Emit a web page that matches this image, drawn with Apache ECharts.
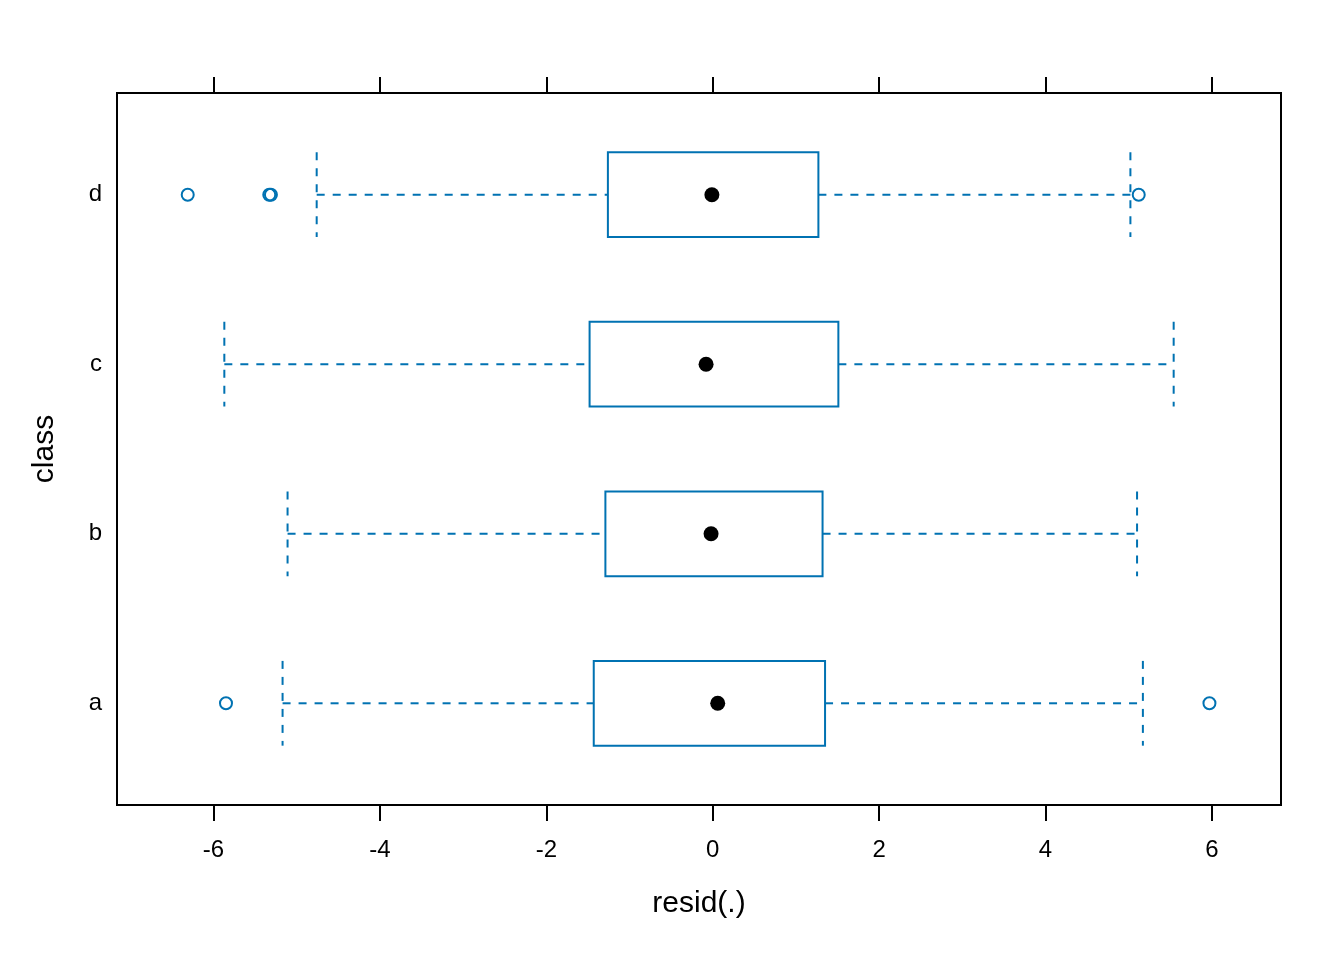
<!DOCTYPE html>
<html>
<head>
<meta charset="utf-8">
<script src="https://cdn.jsdelivr.net/npm/echarts@6/dist/echarts.min.js"></script>
<style>html,body{margin:0;padding:0;background:#fff}#main{width:1344px;height:960px}</style>
</head>
<body>
<div id="main"></div>
<script>
// Data (resid(.) by class)
const categories = ['a', 'b', 'c', 'd'];
const whiskerLow  = [-5.17, -5.11, -5.87, -4.76];
const q1          = [-1.43, -1.29, -1.48, -1.26];
const median      = [0.06, -0.02, -0.08, -0.01];
const q3          = [1.35, 1.32, 1.51, 1.27];
const whiskerHigh = [5.17, 5.10, 5.54, 5.02];
const outliers = [
  [-5.85, 'a'], [5.97, 'a'],
  [-6.31, 'd'], [-5.33, 'd'], [-5.31, 'd'], [5.12, 'd']
];
const xTicks = [-6, -4, -2, 0, 2, 4, 6];

const BLUE = '#0072B2';
const FONT = 'Liberation Sans, Arial, sans-serif';

const catPos = c => categories.indexOf(c) + 1;
const boxData = categories.map((c, i) => [i + 1, whiskerLow[i], q1[i], median[i], q3[i], whiskerHigh[i]]);

const chart = echarts.init(document.getElementById('main'), null, {renderer: 'canvas'});
chart.setOption({
  animation: false,
  backgroundColor: '#fff',
  grid: {left: 117, right: 63, top: 93, bottom: 155, show: true, borderColor: '#000', borderWidth: 2, backgroundColor: 'transparent'},
  xAxis: [{
    type: 'value', min: -7.16, max: 6.83, position: 'bottom',
    splitLine: {show: false},
    axisLine: {show: false},
    axisTick: {show: true, length: 16, inside: false, lineStyle: {color: '#000', width: 2}, customValues: xTicks},
    axisLabel: {show: true, margin: 33, fontSize: 24, color: '#000', fontFamily: FONT, customValues: xTicks},
    name: 'resid(.)', nameLocation: 'middle', nameGap: 84,
    nameTextStyle: {fontSize: 30, color: '#000', fontFamily: FONT}
  }, {
    type: 'value', min: -7.16, max: 6.83, position: 'top',
    splitLine: {show: false},
    axisLine: {show: false},
    axisTick: {show: true, length: 16, inside: false, lineStyle: {color: '#000', width: 2}, customValues: xTicks},
    axisLabel: {show: false}
  }],
  yAxis: {
    type: 'value', min: 0.4, max: 4.6,
    splitLine: {show: false},
    axisLine: {show: false},
    axisTick: {show: false},
    axisLabel: {show: true, margin: 15, fontSize: 24, color: '#000', fontFamily: FONT,
      customValues: [1, 2, 3, 4], formatter: v => categories[Math.round(v) - 1] || ''},
    name: 'class', nameLocation: 'middle', nameGap: 57, nameRotate: 90,
    nameTextStyle: {fontSize: 30, color: '#000', fontFamily: FONT}
  },
  series: [{
    type: 'custom',
    data: boxData,
    encode: {x: [1, 2, 3, 4, 5], y: 0},
    renderItem: function (params, api) {
      const y = api.value(0);
      const lo = api.coord([api.value(1), y]);
      const b1 = api.coord([api.value(2), y]);
      const b3 = api.coord([api.value(4), y]);
      const hi = api.coord([api.value(5), y]);
      const half = api.size([0, 0.25])[1];
      const cy = lo[1];
      const solid = {stroke: BLUE, lineWidth: 2, fill: null};
      const dashed = {stroke: BLUE, lineWidth: 2, lineDash: [8, 8], fill: null};
      return {
        type: 'group',
        children: [
          {type: 'line', shape: {x1: lo[0], y1: cy, x2: b1[0], y2: cy}, style: dashed},
          {type: 'line', shape: {x1: b3[0], y1: cy, x2: hi[0], y2: cy}, style: dashed},
          {type: 'line', shape: {x1: lo[0], y1: cy - half, x2: lo[0], y2: cy + half}, style: dashed},
          {type: 'line', shape: {x1: hi[0], y1: cy - half, x2: hi[0], y2: cy + half}, style: dashed},
          {type: 'rect', shape: {x: b1[0], y: cy - half, width: b3[0] - b1[0], height: 2 * half}, style: {stroke: BLUE, lineWidth: 2, fill: '#fff'}}
        ]
      };
    },
    z: 2
  }, {
    type: 'scatter',
    data: categories.map((c, i) => [median[i], i + 1]),
    symbol: 'circle', symbolSize: 15,
    itemStyle: {color: '#000', opacity: 1},
    z: 3
  }, {
    type: 'scatter',
    data: outliers.map(o => [o[0], catPos(o[1])]),
    symbol: 'circle', symbolSize: 12,
    itemStyle: {color: 'transparent', borderColor: BLUE, borderWidth: 2, opacity: 1},
    z: 3
  }]
});
</script>
</body>
</html>
